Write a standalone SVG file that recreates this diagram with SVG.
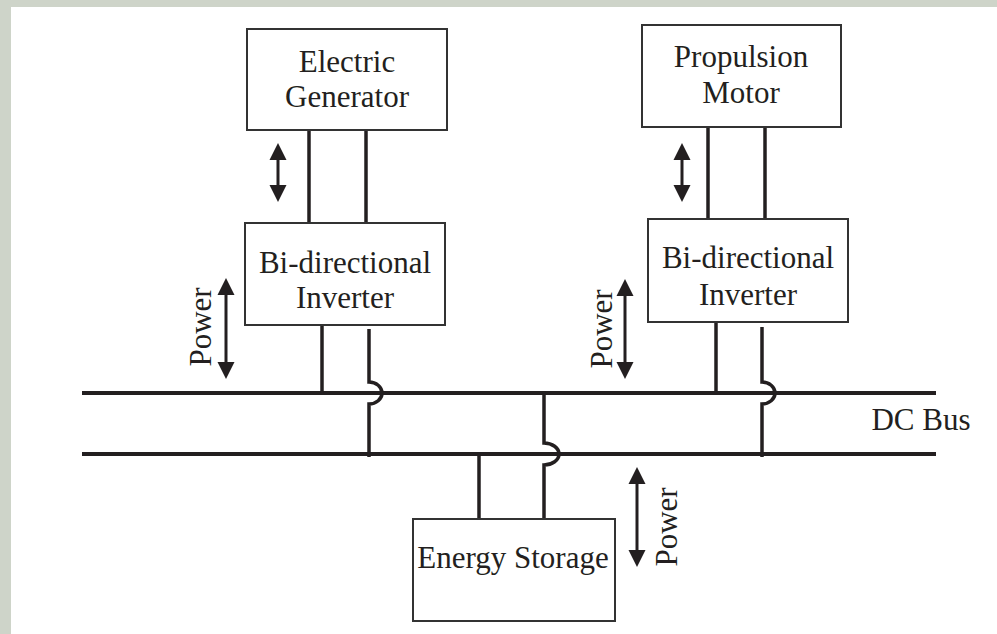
<svg xmlns="http://www.w3.org/2000/svg" width="997" height="634" viewBox="0 0 997 634">
<style>
.box{fill:#fff;stroke:#333;stroke-width:2}
.t{font-family:"Liberation Serif","Times New Roman",serif;font-size:31px;fill:#231f20;text-anchor:middle}
.w{fill:none;stroke:#231f20;stroke-width:3.5}
.bus{fill:none;stroke:#231f20;stroke-width:4}
.sh{stroke:#231f20;stroke-width:3}
.hd{fill:#231f20}
</style>
<rect x="0" y="0" width="997" height="634" fill="#fff"/>
<rect x="0" y="0" width="997" height="7" fill="#ced4c9"/>
<rect x="0" y="0" width="11" height="634" fill="#ced4c9"/>

<g id="connectors">
  <line class="bus" x1="82" y1="393" x2="936" y2="393"/>
  <line class="bus" x1="82" y1="454" x2="936" y2="454"/>
  <line class="w" x1="309" y1="130" x2="309" y2="223"/>
  <line class="w" x1="366" y1="130" x2="366" y2="223"/>
  <line class="w" x1="708" y1="127" x2="708" y2="219"/>
  <line class="w" x1="765" y1="127" x2="765" y2="219"/>
  <line class="w" x1="322" y1="325" x2="322" y2="393"/>
  <line class="w" x1="716" y1="322" x2="716" y2="393"/>
  <path class="w" d="M369,329 V382 A13,11 0 0 1 369,404 V457"/>
  <path class="w" d="M762,327 V382 A13,11 0 0 1 762,404 V457"/>
  <path class="w" d="M544,391 V443 A15,11 0 0 1 544,465 V519"/>
  <line class="w" x1="479" y1="454" x2="479" y2="520"/>
  <g id="arrow-gen">
    <line class="sh" x1="278" y1="155" x2="278" y2="190"/>
    <polygon class="hd" points="278,143 269.5,160 286.5,160"/>
    <polygon class="hd" points="278,202 269.5,185 286.5,185"/>
  </g>
  <g id="arrow-mot">
    <line class="sh" x1="682" y1="155" x2="682" y2="190"/>
    <polygon class="hd" points="682,143 673.5,160 690.5,160"/>
    <polygon class="hd" points="682,202 673.5,185 690.5,185"/>
  </g>
  <g id="arrow-power-left">
    <line class="sh" x1="226" y1="290" x2="226" y2="367"/>
    <polygon class="hd" points="226,278 217.5,295 234.5,295"/>
    <polygon class="hd" points="226,379 217.5,362 234.5,362"/>
  </g>
  <g id="arrow-power-mid">
    <line class="sh" x1="625" y1="291" x2="625" y2="367"/>
    <polygon class="hd" points="625,279 616.5,296 633.5,296"/>
    <polygon class="hd" points="625,379 616.5,362 633.5,362"/>
  </g>
  <g id="arrow-power-storage">
    <line class="sh" x1="637" y1="479" x2="637" y2="555"/>
    <polygon class="hd" points="637,467 628.5,484 645.5,484"/>
    <polygon class="hd" points="637,567 628.5,550 645.5,550"/>
  </g>
</g>

<g id="generator">
  <rect class="box" x="247" y="29" width="200" height="101"/>
  <text class="t" x="347" y="72">Electric</text>
  <text class="t" x="347" y="107">Generator</text>
</g>
<g id="inverter-left">
  <rect class="box" x="245" y="223" width="200" height="102"/>
  <text class="t" x="345" y="273">Bi-directional</text>
  <text class="t" x="345" y="308">Inverter</text>
</g>
<g id="motor">
  <rect class="box" x="642" y="25" width="199" height="102"/>
  <text class="t" x="741" y="67">Propulsion</text>
  <text class="t" x="741" y="103">Motor</text>
</g>
<g id="inverter-right">
  <rect class="box" x="648" y="219" width="200" height="103"/>
  <text class="t" x="748" y="268">Bi-directional</text>
  <text class="t" x="748" y="305">Inverter</text>
</g>
<g id="storage">
  <rect class="box" x="413" y="519" width="202" height="102"/>
  <text class="t" x="513" y="568">Energy Storage</text>
</g>
<g id="labels">
  <text class="t" x="921" y="430">DC Bus</text>
  <text class="t" transform="translate(211,327) rotate(-90)">Power</text>
  <text class="t" transform="translate(612,329) rotate(-90)">Power</text>
  <text class="t" transform="translate(677,527) rotate(-90)">Power</text>
</g>
</svg>
